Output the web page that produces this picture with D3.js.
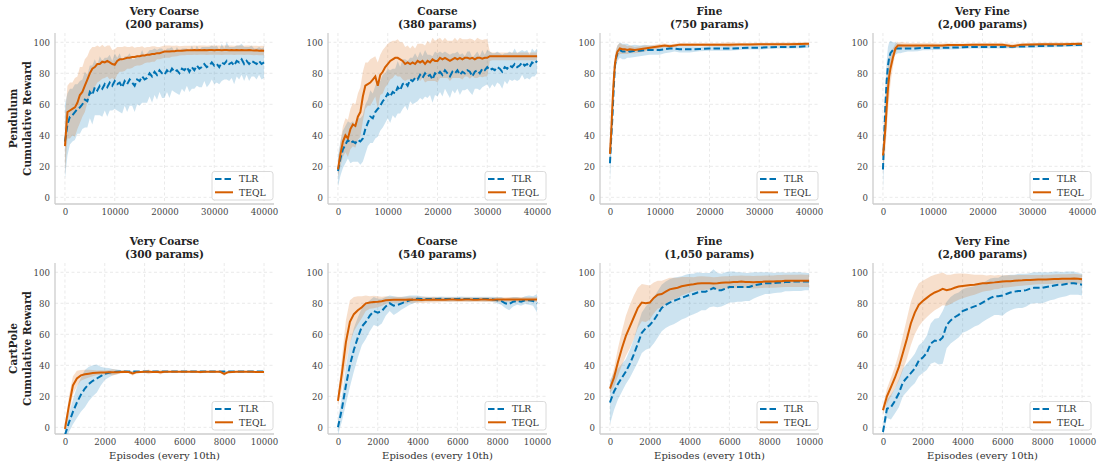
<!DOCTYPE html>
<html><head><meta charset="utf-8">
<script src="https://cdn.jsdelivr.net/npm/d3@7"></script>
<style>
body{margin:0;background:#fff}
text{font-family:"DejaVu Serif",serif}
</style>
</head><body>
<svg id="c" width="1097" height="464"></svg>
<script>
// ---------- tick labels / titles ----------
const yTicks = [0, 20, 40, 60, 80, 100];
const xTicksPend = [0, 10000, 20000, 30000, 40000];
const xTicksCart = [0, 2000, 4000, 6000, 8000, 10000];
const titlesTop = [["Very Coarse", "(200 params)"], ["Coarse", "(380 params)"], ["Fine", "(750 params)"], ["Very Fine", "(2,000 params)"]];
const titlesBot = [["Very Coarse", "(300 params)"], ["Coarse", "(540 params)"], ["Fine", "(1,050 params)"], ["Very Fine", "(2,800 params)"]];
const rowLabels = [["Pendulum", "Cumulative Reward"], ["CartPole", "Cumulative Reward"]];
const xLabel = "Episodes (every 10th)";
const seriesNames = ["TLR", "TEQL"];

// ---------- episode grids ----------
const epPendDense = d3.range(0, 40001, 500);    // 81 samples
const epPendSparse = [0,250,500,750,1000,1250,1500,2000,2500,3000,3500,4000,5000,6000,7000,8000,9000,10000,11000,12000,13000,14000,16000,18000,20000,22000,24000,26000,28000,30000,32000,34000,36000,38000,40000];
const epCart = d3.range(0, 10001, 200);          // 51 samples

// ---------- Pendulum, Very Coarse (200) ----------
const p1TlrMean = [36,47,52,53,55,57,58,60,63,62,68,66,71,69,72,70,73,71,74,72,75,73,74,71,75,73,76,74,72,76,75,78,76,77,80,78,81,79,82,80,79,82,80,83,81,82,80,83,82,84,81,84,82,85,83,84,86,84,85,87,85,86,84,87,86,88,86,87,85,88,87,89,86,88,86,88,87,86,88,86,87];
const p1TlrStd  = [24,20,18,17,18,16,17,16,18,17,17,19,18,16,19,18,17,19,18,16,18,17,19,17,16,18,17,15,17,16,16,17,15,16,15,17,15,16,14,16,15,14,16,14,13,15,14,13,14,12,13,14,12,13,12,13,11,13,12,11,12,12,11,12,10,12,11,10,12,10,11,10,11,9,11,10,9,10,9,10,10];
const p1TeqlMean = [33,55,56,57,58,61,66,68,72,76,80,83,84,86,86,87.5,87,88,87,86,85.5,88,89,89,89.5,90,90,90.5,90.5,91,91,91.5,91.5,92,92,92.5,92.5,93,93,93.5,94,94,94,94.2,94.3,94.5,94.5,94.6,94.7,94.8,94.8,94.8,95,94.8,95,94.9,95,94.8,95,95,94.9,95,95,94.8,95,95,94.9,95,94.8,95,94.9,95,94.8,94.9,95,94.8,94.7,94.8,94.6,94.7,94.6];
const p1TeqlStd  = [18,17,18,17,19,17,18,16,17,15,15,14,13,12,11,11,10,10,11,9,10,9,8,8,8,7,7,7,6,6,6,6,5,5,5,5,5,4,4,4,4,4,4,3.5,3.5,3.5,3,3,3,3,3,3,3,3,3,3,3,3,3,3,3,3,3,3,3,3,3,3,3,3,3,3,3,3,3,3,3,3,3,3,3];

// ---------- Pendulum, Coarse (380) ----------
const p2TlrMean = [17,25,31,34,37,35,36,35,37,36,38,44,48,52,51,55,57,59,62,64,67,65,68,67,71,69,73,74,72,76,75,77,76,79,77,80,78,79,76,80,79,81,79,82,80,78,81,80,82,79,81,80,82,81,78,81,82,80,83,82,84,82,83,82,84,83,81,84,83,85,84,86,84,85,87,85,86,84,87,86,88];
const p2TlrStd  = [10,11,12,12,12,13,13,12,14,15,15,16,15,17,16,17,18,16,17,16,16,17,15,16,17,15,16,15,16,14,15,16,14,15,14,15,14,13,15,14,14,13,14,12,13,14,12,13,12,13,12,11,12,13,12,11,12,11,12,10,11,12,10,11,10,10,11,9,10,9,9,10,9,9,8,9,9,8,9,8,8];
const p2TeqlMean = [18,28,36,40,38,44,47,46,52,55,65,72,73,74,76,78,72,79,81,84,86,88,89,90,90,89,88,86,87,86,87,86,88,87,88,86,88,87,89,88,88,90,89,90,89,88,89,90,89,90,89,90,90,89.5,90,89,90,90,89.5,90,90,91,91,91,91,91,91,91,91,91,91,91,91,91,91,91,91,91,91,91,91];
const p2TeqlStd  = [5,8,10,11,12,13,14,14,15,16,16,15,14,15,14,13,15,13,14,13,13,12,12,11,12,11,12,11,11,10,11,10,11,12,11,12,13,12,14,13,14,13,12,13,12,13,12,13,12,13,13,12,12,13,12,12,13,12,12,12,12,3,2.5,2.5,2.5,2.5,2.5,2.5,2.5,2.5,2.5,2.5,2.5,2.5,2.5,2.5,2.5,2.5,2.5,2.5,2.5];

// ---------- Pendulum, Fine (750) ----------
const p3TlrMean = [22,38,52,70,85,90,93,95,94,94,94.5,94,94.5,94.5,95,95,95,95,95.5,96,96,95.5,95.5,95.7,96,96,96,96.2,96.5,96.5,96.8,97,97,97.2,97.5];
const p3TlrStd  = [12,10,8,6,5,5,5,5,5,5,4.5,4,4,3.5,3.5,3,3,3,2.5,2.5,2,2,2,1.5,1.5,1.5,1.5,1.2,1.2,1.2,1,1,1,1,1];
const p3TeqlMean = [28,42,60,75,86,91,94,96,95.5,95.5,95,95.5,95,95.5,96,96.5,97,97.5,98,97.5,98,98.5,98.5,98.5,98.5,98.5,98.5,98.6,98.6,98.7,98.7,98.8,98.8,98.9,99];
const p3TeqlStd  = [6,6,6,6,6,5,4,3.5,3,3,2.5,2.5,2,2,2,1.5,1.5,1.5,1.2,1.2,1,1,1,1,1,1,1.5,1,1,1,1,1,1,1,1];

// ---------- Pendulum, Very Fine (2,000) ----------
const p4TlrMean = [18,40,60,75,85,90,93,95,96,96,96,96,96,96,96.2,96.3,96.3,96.5,96.5,96.5,96.5,96.6,96.8,97,97,97,97,97.2,97.3,97.5,97.6,97.8,98,98.2,98.5];
const p4TlrStd  = [14,14,14,13,12,10,8,5,4,3,3,2.5,2,2,2,1.5,1.5,1.5,1.5,1.2,1.2,1.2,1,1,1,1,1,1,1,1,1,1,1,1,1];
const p4TeqlMean = [27,35,45,58,70,78,83,90,96,98,98,98,98,98,98,98,98,98,98,98,98.2,98.3,98.3,98.4,98.5,98.5,98.5,97.5,98.5,98.6,98.7,98.8,98.8,98.9,99];
const p4TeqlStd  = [10,12,14,15,15,14,10,6,3,2,2,2,1.5,1.5,1.5,1.5,1.5,1.5,1.2,1.2,1.2,1,1,1,1,1,1,1.5,1,1,1,1,1,1,1];

// ---------- CartPole, Very Coarse (300) ----------
const c1TlrMean = [-5,3,10,16,21,25,28,30,31.5,33,34.5,35.2,35.6,35.8,36,36,36,36,36,36,36,36,36,36,36,36,36,36,36,36,36,36,36,36,36,36,36,36,36,36,36,36,36,36,36,36,36,36,36,36,36];
const c1TlrStd  = [6,6,8,10,11,12,11,10,9,6,4,3,2,1.5,1,0.4,0.4,0.4,0.4,0.4,0.4,0.4,0.4,0.4,0.4,0.4,0.4,0.4,0.4,0.4,0.4,0.4,0.4,0.4,0.4,0.4,0.4,0.4,0.4,0.4,0.4,0.4,0.4,0.4,0.4,0.4,0.4,0.4,0.4,0.4,0.4];
const c1TeqlMean = [-1,14,27,31.5,33.5,34.2,34.6,35,35.2,35.3,35.4,35.5,35.5,35.6,35.7,35.8,35.7,34.8,35.6,35.7,35.8,35.8,35.7,35.8,35.6,35.8,35.8,35.8,35.8,35.8,35.8,35.8,35.8,35.8,35.7,35.8,35.8,35.8,35.8,35.8,34.5,35.6,35.7,35.8,35.8,35.8,35.8,35.8,35.7,35.7,35.7];
const c1TeqlStd  = [1,6,6,5,3.5,3,2.5,2,1.5,1.5,1.2,1.5,2,1.5,1,0.8,0.6,1.5,0.6,0.6,0.6,1.5,0.6,0.6,1.5,0.6,0.6,0.5,0.5,0.5,0.5,0.5,0.5,0.5,1,0.5,0.5,0.5,0.5,0.5,1.2,0.6,0.5,0.5,0.5,0.5,0.5,0.5,0.5,0.5,0.5];

// ---------- CartPole, Coarse (540) ----------
const c2TlrMean = [0,12,27,40,50,58,65,68,72,75,74,75,78,80,78.5,79,80,81,82,82.5,83,82.8,82.8,82.7,82.8,82.8,82.9,82.8,82.7,82.8,82.8,82.9,82.8,82.7,82.8,82.8,82.8,82.7,82.8,82.5,82,81.5,80,79.5,81,81.5,81,82,82,81.5,80];
const c2TlrStd  = [5,8,12,14,14,13,12,11,10,9,9,8,6,5,6,5,4,3.5,3,2.5,2,1.8,1.5,1.5,1.5,1.5,1.5,1.5,1.5,1.5,1.5,1.5,1.5,1.5,1.5,1.5,1.5,1.5,1.5,1.8,2,2.5,3,4,3,2.5,2.5,2.5,3,3,6];
const c2TeqlMean = [17,35,55,68,73,75.5,77.5,80,80.5,80.8,81,81.3,82,82.2,82.3,82.3,82.3,82.3,82.4,82.3,82.3,82.2,82.3,82.3,82.4,82.3,82.3,82.3,82.4,82.4,82.3,82.3,82.4,82.4,82.3,82.3,82.4,82.4,82.3,82.3,82.4,82.4,82.4,82.5,82.5,82.5,82.5,82.5,82.5,82.5,82.5];
const c2TeqlStd  = [3,10,14,14,11,9,7,5,4,4,3.5,3,2.5,2,2,2,2,2,2,2,2,2,2,1.8,1.8,1.8,1.5,1.5,1.5,1.5,1.5,1.5,1.5,1.5,1.5,1.5,1.5,1.5,1.5,1.5,1.5,1.5,1.5,1.5,1.5,1.5,1.5,1.5,1.5,1.5,1.5];

// ---------- CartPole, Fine (1,050) ----------
const c3TlrMean = [16,23,28,32,36,41,47,54,61,64,66,69,73,77,79,80.5,81.5,82.5,83.5,84.5,85.5,86,87,87.5,87.5,88.5,90,88.5,88.5,89.5,90.5,90.5,90.5,90.5,90.5,90.5,91.5,92,92.5,93,93,93,93.3,93.5,93.7,93.8,94,94,94,94,94];
const c3TlrStd  = [14,12,10,9,8,9,10,12,13,14,15,15,15,15,15,15,15,14.5,14,14,13.5,13,13,12,12,11,12,11,10.5,10.5,10,10,9.5,9.5,9,9,8.5,8,7.5,7,7,6.5,6.5,6.5,6,6,6,6,6,5.5,5.5];
const c3TeqlMean = [25,32,42,51,59,65,71,77,80.5,80,80.5,83.5,85.5,86,87.5,89,89.5,90,91,91.5,92,92.3,92.8,93,93,93,92.8,93,93.3,93.5,93.5,93.7,93.8,94,93.8,93.8,93.6,93.7,93.8,94,94,94,94.2,94.3,94.5,94.5,94.5,94.5,94.6,94.5,94.5];
const c3TeqlStd  = [3,6,9,11,13,14,14,13,12,12,11,10,9,8.5,8,7.5,7,6.5,6,5.5,5,4.5,4.5,4.5,4.3,4.2,4,4,4,4,4,4,4,4,4,4,4,4,4,4,4,4,4,4,4,4,4,4,4,4,4];

// ---------- CartPole, Very Fine (2,800) ----------
const c4TlrMean = [-3,12,13,17,22,29,32,35,38,43,45,48,54,56,55.5,58,66,69,71,72.5,75,76,77,78,79,80.5,82,83.5,84.5,84.5,85,86,87,87.5,88,88,88.5,89.5,90,90,90,90.5,91,91.5,92,92,92.5,93,93,92.5,92];
const c4TlrStd  = [3,6,8,8,9,9,9,9,9.5,10,10,11,13,14,15,17,15,15,15,14.5,14,14,13.5,13,13,12.5,12.5,12.5,12,12,13,12,11.5,11,11,11,10.5,10,10,10,10,9.5,9,9,8.5,8,8,7.5,7.5,7,7];
const c4TeqlMean = [11,20,26,32,39,48,57,67,74,79,81.5,83.5,85.5,87,88,89.3,88.5,89,90,90.8,91.2,91.5,91.8,92,92.5,93,93,93.3,93.5,93.8,94,94.2,94.3,94.5,94.7,94.8,95,95,95.2,95.3,95.3,95.4,95.5,95.6,95.7,95.8,95.8,95.9,96,95.8,95.5];
const c4TeqlStd  = [3,5,6,7,9,11,13,14,14,14,13,12.5,12,11.5,11,10.5,10,9.5,9,8.5,8,7.5,7,6.5,6,5.5,5,5,4.5,4.5,4,4,3.8,3.6,3.5,3.4,3.3,3.2,3.1,3,3,3,3,3,3,3,3,3,3,3,3];

// ---------- assemble panels ----------
const panels = [
  {row:0,col:0,ep:epPendDense, tlr:[p1TlrMean,p1TlrStd], teql:[p1TeqlMean,p1TeqlStd]},
  {row:0,col:1,ep:epPendDense, tlr:[p2TlrMean,p2TlrStd], teql:[p2TeqlMean,p2TeqlStd]},
  {row:0,col:2,ep:epPendSparse,tlr:[p3TlrMean,p3TlrStd], teql:[p3TeqlMean,p3TeqlStd]},
  {row:0,col:3,ep:epPendSparse,tlr:[p4TlrMean,p4TlrStd], teql:[p4TeqlMean,p4TeqlStd]},
  {row:1,col:0,ep:epCart,tlr:[c1TlrMean,c1TlrStd], teql:[c1TeqlMean,c1TeqlStd]},
  {row:1,col:1,ep:epCart,tlr:[c2TlrMean,c2TlrStd], teql:[c2TeqlMean,c2TeqlStd]},
  {row:1,col:2,ep:epCart,tlr:[c3TlrMean,c3TlrStd], teql:[c3TeqlMean,c3TeqlStd]},
  {row:1,col:3,ep:epCart,tlr:[c4TlrMean,c4TlrStd], teql:[c4TeqlMean,c4TeqlStd]}
];

// ---------- layout & style ----------
const colLeft = [55, 328, 600, 873];
const rowTop = [33, 263];
const PW = 219, PH = 171;
const COL_TLR = "#0072B2", COL_TEQL = "#D55E00";
const svg = d3.select("#c");
const defs = svg.append("defs");

panels.forEach((p, i) => {
  const L = colLeft[p.col], T = rowTop[p.row];
  const isTop = p.row === 0;
  const x = d3.scaleLinear().domain(isTop ? [-2000, 42000] : [-500, 10500]).range([L, L + PW]);
  const y = d3.scaleLinear().domain([-4.3, 106]).range([T + PH, T]);
  const xt = isTop ? xTicksPend : xTicksCart;
  const g = svg.append("g");

  defs.append("clipPath").attr("id", "clip" + i)
    .append("rect").attr("x", L).attr("y", T).attr("width", PW).attr("height", PH);

  // grid
  g.append("g").selectAll("line").data(yTicks).join("line")
    .attr("x1", L).attr("x2", L + PW).attr("y1", d => y(d)).attr("y2", d => y(d))
    .attr("stroke", "#e4e4e4").attr("stroke-width", 0.8).attr("stroke-dasharray", "3,2.5");
  g.append("g").selectAll("line").data(xt).join("line")
    .attr("y1", T).attr("y2", T + PH).attr("x1", d => x(d)).attr("x2", d => x(d))
    .attr("stroke", "#e4e4e4").attr("stroke-width", 0.8).attr("stroke-dasharray", "3,2.5");

  // axes via d3.axis, styled
  const ax = g.append("g").attr("transform", `translate(0,${T + PH})`)
    .call(d3.axisBottom(x).tickValues(xt).tickSize(0).tickPadding(5).tickFormat(d3.format("d")));
  const ay = g.append("g").attr("transform", `translate(${L},0)`)
    .call(d3.axisLeft(y).tickValues(yTicks).tickSize(0).tickPadding(5).tickFormat(d3.format("d")));
  [ax, ay].forEach(a => {
    a.select(".domain").attr("stroke", "#cccccc").attr("stroke-width", 1.3);
    a.selectAll("text").attr("font-family", "DejaVu Serif").attr("font-size", 8.6).attr("fill", "#444");
  });
  ay.select(".domain").attr("d", `M0,${T}V${T + PH}`);
  ax.select(".domain").attr("d", `M${L},0H${L + PW}`);

  // data
  const plot = g.append("g").attr("clip-path", `url(#clip${i})`);
  const mk = (arr) => p.ep.map((e, k) => ({e, m: arr[0][k], s: arr[1][k]}));
  const dT = mk(p.tlr), dQ = mk(p.teql);
  const area = d3.area().x(d => x(d.e)).y0(d => y(d.m - d.s)).y1(d => y(d.m + d.s));
  const line = d3.line().x(d => x(d.e)).y(d => y(d.m));
  plot.append("path").attr("d", area(dT)).attr("fill", COL_TLR).attr("fill-opacity", 0.2);
  plot.append("path").attr("d", area(dQ)).attr("fill", COL_TEQL).attr("fill-opacity", 0.2);
  plot.append("path").attr("d", line(dT)).attr("fill", "none").attr("stroke", COL_TLR)
    .attr("stroke-width", 2).attr("stroke-dasharray", "6.5,3");
  plot.append("path").attr("d", line(dQ)).attr("fill", "none").attr("stroke", COL_TEQL)
    .attr("stroke-width", 2);

  // title
  const tt = (isTop ? titlesTop : titlesBot)[p.col];
  g.append("text").attr("x", L + PW / 2).attr("y", T - 18).attr("text-anchor", "middle")
    .attr("font-size", 10.5).attr("font-weight", "bold").attr("fill", "#222").text(tt[0]);
  g.append("text").attr("x", L + PW / 2).attr("y", T - 5.5).attr("text-anchor", "middle")
    .attr("font-size", 10.5).attr("font-weight", "bold").attr("fill", "#222").text(tt[1]);

  // x label on bottom row
  if (!isTop) {
    g.append("text").attr("x", L + PW / 2).attr("y", T + PH + 24.5).attr("text-anchor", "middle")
      .attr("font-size", 10).attr("fill", "#333").text(xLabel);
  }
  // y label on first column
  if (p.col === 0) {
    const cy = T + PH / 2;
    rowLabels[p.row].forEach((t, j) => {
      g.append("text").attr("transform", `translate(${13 + j * 13.5},${cy}) rotate(-90)`)
        .attr("text-anchor", "middle").attr("dominant-baseline", "central")
        .attr("font-size", 10.5).attr("font-weight", "bold").attr("fill", "#222").text(t);
    });
  }

  // legend
  const R = L + PW, B = T + PH;
  const lg = g.append("g");
  lg.append("rect").attr("x", R - 62).attr("y", B - 32.5).attr("width", 61).attr("height", 28.5)
    .attr("rx", 2.5).attr("fill", "#fff").attr("fill-opacity", 0.85).attr("stroke", "#d0d0d0").attr("stroke-width", 0.8);
  seriesNames.forEach((n, j) => {
    const yy = B - 25 + j * 13.3;
    lg.append("line").attr("x1", R - 59).attr("x2", R - 41).attr("y1", yy).attr("y2", yy)
      .attr("stroke", j === 0 ? COL_TLR : COL_TEQL).attr("stroke-width", 2)
      .attr("stroke-dasharray", j === 0 ? "6.5,3" : null);
    lg.append("text").attr("x", R - 35).attr("y", yy).attr("dy", "0.35em")
      .attr("font-size", 9.3).attr("fill", "#333").text(n);
  });
});
</script>
</body></html>
